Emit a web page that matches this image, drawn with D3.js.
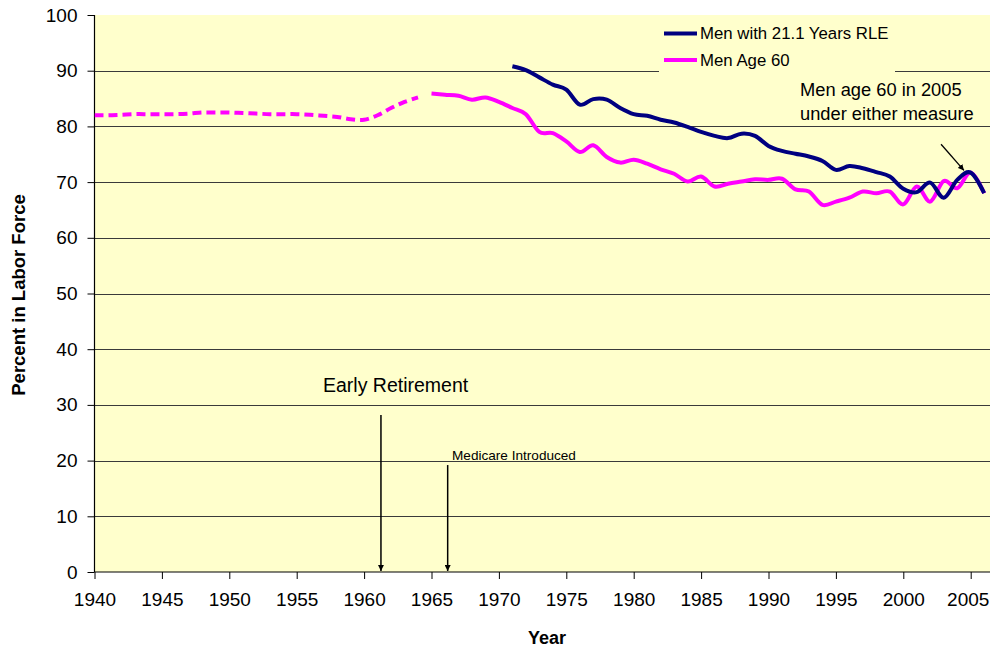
<!DOCTYPE html>
<html><head><meta charset="utf-8">
<script src="https://cdn.jsdelivr.net/npm/d3@7"></script>
<style>
body{margin:0;background:#fff;}
svg{display:block;font-family:Arial,"Liberation Sans",sans-serif;}
</style></head>
<body><svg id="c" width="990" height="652"></svg>
<script>
// ---- data ----
const yearsEarly = [1940,1941,1942,1943,1944,1945,1946,1947,1948,1949,1950,1951,1952,1953,1954,1955,1956,1957,1958,1959,1960,1961,1962,1963,1964];
const age60Early = [82.0,82.0,82.1,82.2,82.2,82.2,82.2,82.3,82.5,82.5,82.5,82.4,82.3,82.2,82.2,82.2,82.1,81.9,81.7,81.3,81.2,82.0,83.3,84.4,85.2];

const yearsAge60 = [1965,1966,1967,1968,1969,1970,1971,1972,1973,1974,1975,1976,1977,1978,1979,1980,1981,1982,1983,1984,1985,1986,1987,1988,1989,1990,1991,1992,1993,1994,1995,1996,1997,1998,1999,2000,2001,2002,2003,2004,2005,2006];
const age60 = [85.9,85.7,85.5,84.8,85.2,84.4,83.3,82.2,79.0,78.8,77.3,75.4,76.6,74.5,73.5,74.0,73.3,72.3,71.5,70.1,71.0,69.2,69.7,70.1,70.5,70.4,70.6,68.7,68.3,65.9,66.5,67.2,68.3,68.0,68.3,66.0,69.2,66.5,70.2,68.9,71.7,68.0];

const yearsRLE = [1971,1972,1973,1974,1975,1976,1977,1978,1979,1980,1981,1982,1983,1984,1985,1986,1987,1988,1989,1990,1991,1992,1993,1994,1995,1996,1997,1998,1999,2000,2001,2002,2003,2004,2005,2006];
const rle = [90.8,90.1,88.8,87.5,86.6,83.9,84.9,84.8,83.3,82.2,81.9,81.2,80.7,79.9,79.0,78.3,77.9,78.7,78.3,76.5,75.6,75.1,74.6,73.8,72.2,72.9,72.5,71.8,71.0,68.8,68.2,69.9,67.2,70.4,71.7,68.0];

const xTicks = [1940,1945,1950,1955,1960,1965,1970,1975,1980,1985,1990,1995,2000,2005];
const yTicks = [0,10,20,30,40,50,60,70,80,90,100];
const seriesNames = ["Men with 21.1 Years RLE","Men Age 60"];

// ---- layout ----
const svg = d3.select("#c");
const L = 94.5, T = 15, B = 572, pxPerYear = 13.48;
const x = d3.scaleLinear().domain([1940, 2007]).range([L, L + 67*pxPerYear]);
const y = d3.scaleLinear().domain([0, 100]).range([B, T]);
const W = 990;

svg.append("defs").append("marker")
  .attr("id","arr").attr("viewBox","0 0 10 10").attr("refX",10).attr("refY",5)
  .attr("markerWidth",6).attr("markerHeight",6).attr("orient","auto-start-reverse")
  .attr("markerUnits","userSpaceOnUse")
  .append("path").attr("d","M0,0L10,5L0,10z").attr("fill","#000");

// plot background
svg.append("rect").attr("x",L).attr("y",T).attr("width",W-L).attr("height",B-T).attr("fill","#FFFFCC");

// gridlines
svg.append("g").selectAll("line").data(yTicks.filter(d=>d>0 && d<100)).join("line")
  .attr("x1",L).attr("x2",W).attr("y1",d=>Math.round(y(d))+0.5).attr("y2",d=>Math.round(y(d))+0.5)
  .attr("stroke","#3a3a3a").attr("stroke-width",1);

// legend box (covers gridline)
svg.append("rect").attr("x",659).attr("y",18).attr("width",236).attr("height",62).attr("fill","#FFFFCC");

// axes
const yAxis = d3.axisLeft(y).tickValues(yTicks).tickSize(7).tickPadding(10);
const gy = svg.append("g").attr("transform",`translate(${L},0)`).call(yAxis);
const xAxis = d3.axisBottom(x).tickValues(xTicks).tickSize(7).tickPadding(14).tickFormat(d3.format("d"));
const gx = svg.append("g").attr("transform",`translate(0,${B})`).call(xAxis);
[gx, gy].forEach(g=>{
  g.select(".domain").attr("stroke","#000").attr("stroke-width",1.2);
  g.selectAll(".tick line").attr("stroke","#000");
  g.selectAll(".tick text").attr("font-size",19).attr("fill","#000").attr("font-family","Arial, 'Liberation Sans', sans-serif");
});
gy.select(".domain").attr("d",`M0,${B}V${T}`);
gx.select(".domain").attr("d",`M${L},0H${W}`);
// keep the last tick label inside the picture
gx.selectAll(".tick text").filter(d=>d===2005).attr("dx",-3);

// lines
const clip = svg.append("clipPath").attr("id","clp").append("rect").attr("x",L).attr("y",0).attr("width",W-L).attr("height",B);
const line = d3.line().x(d=>x(d[0])).y(d=>y(d[1])).curve(d3.curveCatmullRom.alpha(0));
const g = svg.append("g").attr("clip-path","url(#clp)");
g.append("path").datum(yearsEarly.map((d,i)=>[d,age60Early[i]])).attr("d",line)
  .attr("fill","none").attr("stroke","#FF00FF").attr("stroke-width",4).attr("stroke-dasharray","9,5");
g.append("path").datum(yearsAge60.map((d,i)=>[d,age60[i]])).attr("d",line)
  .attr("fill","none").attr("stroke","#FF00FF").attr("stroke-width",4).attr("stroke-linejoin","round");
g.append("path").datum(yearsRLE.map((d,i)=>[d,rle[i]])).attr("d",line)
  .attr("fill","none").attr("stroke","#000080").attr("stroke-width",4).attr("stroke-linejoin","round");

// legend
const leg = svg.append("g");
[["#000080",33.5,4],["#FF00FF",60,4]].forEach((c,i)=>{
  leg.append("line").attr("x1",664).attr("x2",697).attr("y1",c[1]).attr("y2",c[1]).attr("stroke",c[0]).attr("stroke-width",c[2]);
  leg.append("text").attr("x",700).attr("y",c[1]+5.5).attr("font-size",16.8).text(seriesNames[i]);
});

// annotations
svg.append("text").attr("x",323).attr("y",392).attr("font-size",19.5).text("Early Retirement");
svg.append("line").attr("x1",x(1961.25)).attr("x2",x(1961.25)).attr("y1",y(28.2)).attr("y2",y(0)-1)
  .attr("stroke","#000").attr("stroke-width",1.5).attr("marker-end","url(#arr)");
svg.append("text").attr("x",452).attr("y",460).attr("font-size",13.6).text("Medicare Introduced");
svg.append("line").attr("x1",x(1966.2)).attr("x2",x(1966.2)).attr("y1",y(19.2)).attr("y2",y(0)-1)
  .attr("stroke","#000").attr("stroke-width",1.5).attr("marker-end","url(#arr)");
svg.append("text").attr("x",800).attr("y",96).attr("font-size",18.3).text("Men age 60 in 2005");
svg.append("text").attr("x",800).attr("y",120).attr("font-size",18.3).text("under either measure");
svg.append("line").attr("x1",x(2002.8)).attr("x2",x(2004.5)).attr("y1",y(76.8)).attr("y2",y(72.1))
  .attr("stroke","#000").attr("stroke-width",1.3).attr("marker-end","url(#arr)");

// axis titles
svg.append("text").attr("x",547).attr("y",644).attr("text-anchor","middle").attr("font-size",18).attr("font-weight","bold").text("Year");
svg.append("text").attr("transform","translate(25,295) rotate(-90)").attr("text-anchor","middle").attr("font-size",18.5).attr("font-weight","bold").text("Percent in Labor Force");
</script></body></html>
